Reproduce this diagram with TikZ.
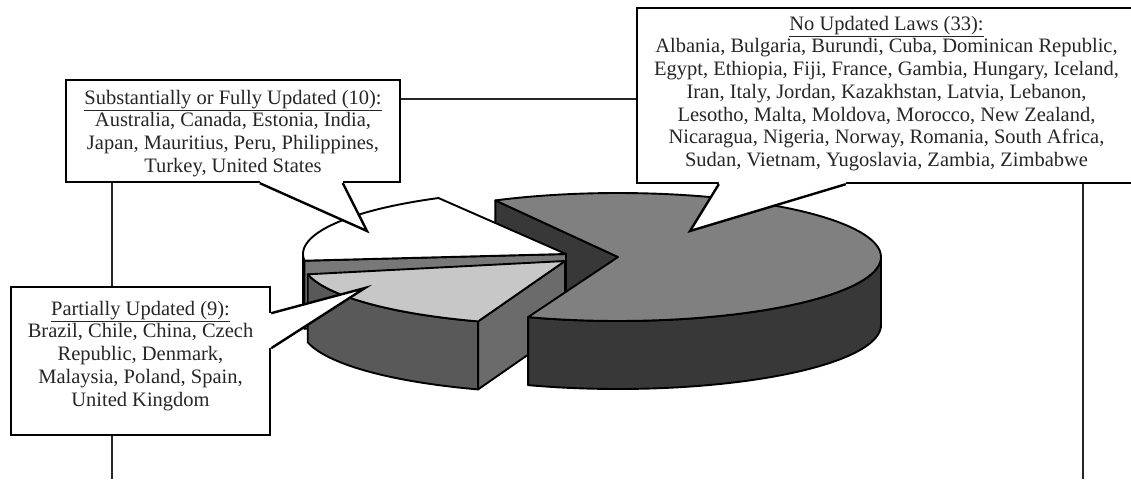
\documentclass[tikz,border=0pt]{standalone}
\usepackage{fontspec}
\setmainfont{Liberation Serif}
\usetikzlibrary{calc}

\tikzset{
  box/.style={draw, line width=2.4pt, fill=white, inner sep=0pt},
  boxtext/.style={inner sep=0pt, align=center, anchor=north,
    text=black!85, font=\fontsize{20.5}{22.7}\selectfont},
  tail/.style={line width=2.4pt},
  link/.style={line width=1.2pt, black!85},
  pie/.style={line width=1.9pt, line join=round},
}

\begin{document}
\begin{tikzpicture}[x=1pt, y=-1pt]
  \useasboundingbox (0,0) rectangle (1131,479);
  \clip (0,0) rectangle (1131,479);
  % big slice, pulled out to the right
  \filldraw[pie, fill=black!78] (618,257) -- ({618+263*cos(-117.8)},{257+64*sin(-117.8)})
    -- ++(0,68) -- (618,325) -- cycle;
  % white slice
  \filldraw[pie, fill=black!90] plot[domain=174:180] ({566+263*cos(\x)},{254+64*sin(\x)})
    -- plot[domain=180:174] ({566+263*cos(\x)},{322+64*sin(\x)}) -- cycle;
  \filldraw[pie, fill=black!53] (566,254) -- ({566+263*cos(174)},{254+64*sin(174)})
    -- ++(0,68) -- (566,322) -- cycle;
  \filldraw[pie, fill=white] (566,254)
    -- plot[domain=174:241, samples=40] ({566+263*cos(\x)},{254+64*sin(\x)}) -- cycle;
  % light grey slice
  \filldraw[pie, fill=black!65] plot[domain=109.3:168, samples=40] ({565+263*cos(\x)},{261+64*sin(\x)})
    -- plot[domain=168:109.3, samples=40] ({565+263*cos(\x)},{329+64*sin(\x)}) -- cycle;
  \filldraw[pie, fill=black!58] (565,261) -- ({565+263*cos(109.3)},{261+64*sin(109.3)})
    -- ++(0,68) -- (565,329) -- cycle;
  \filldraw[pie, fill=black!22] (565,261)
    -- plot[domain=109.3:168, samples=40] ({565+263*cos(\x)},{261+64*sin(\x)}) -- cycle;
  % big slice, wall and top
  \filldraw[pie, fill=black!78] plot[domain=0:110, samples=50] ({618+263*cos(\x)},{257+64*sin(\x)})
    -- plot[domain=110:0, samples=50] ({618+263*cos(\x)},{325+64*sin(\x)}) -- cycle;
  \filldraw[pie, fill=black!50] (618,257)
    -- plot[domain=-117.8:110, samples=90] ({618+263*cos(\x)},{257+64*sin(\x)}) -- cycle;

  % boxes
  \node[box, minimum width=334pt, minimum height=102pt] (subst) at (233,131) {};
  \node[boxtext] (substtext) at ([yshift=-11pt]subst.north)
    {\underline{Substantially or Fully Updated (10):}\\
     Australia, Canada, Estonia, India,\\
     Japan, Mauritius, Peru, Philippines,\\
     Turkey, United States};
  \node[box, minimum width=499pt, minimum height=175pt] (nolaw) at (886.5,95.5) {};
  \node[boxtext] (nolawtext) at ([yshift=-9pt]nolaw.north)
    {\underline{No Updated Laws (33):}\\
     Albania, Bulgaria, Burundi, Cuba, Dominican Republic,\\
     Egypt, Ethiopia, Fiji, France, Gambia, Hungary, Iceland,\\
     Iran, Italy, Jordan, Kazakhstan, Latvia, Lebanon,\\
     Lesotho, Malta, Moldova, Morocco, New Zealand,\\
     Nicaragua, Nigeria, Norway, Romania, South Africa,\\
     Sudan, Vietnam, Yugoslavia, Zambia, Zimbabwe};
  \node[box, minimum width=259pt, minimum height=148pt] (partial) at (140.5,361) {};
  \node[boxtext] (partialtext) at ([yshift=-15pt]partial.north)
    {\underline{Partially Updated (9):}\\
     Brazil, Chile, China, Czech\\
     Republic, Denmark,\\
     Malaysia, Poland, Spain,\\
     United Kingdom};

  % pointers
  \coordinate (tipA) at (367,231);
  \coordinate (tipB) at (690,231);
  \coordinate (tipC) at (365,288);
  \coordinate (substL) at ($(subst.south west)+(195,0)$);
  \coordinate (substR) at ($(subst.south west)+(278,0)$);
  \coordinate (nolawL) at ($(nolaw.south west)+(83,0)$);
  \coordinate (nolawR) at ($(nolaw.south west)+(210,0)$);
  \coordinate (partialT) at ($(partial.south east)+(0,-123)$);
  \coordinate (partialB) at ($(partial.south east)+(0,-88)$);
  \fill[white] ($(substL)+(0,-4)$) -- (substL) -- (tipA) -- (substR) -- ($(substR)+(0,-4)$) -- cycle;
  \draw[tail] (substL) -- (tipA) -- (substR);
  \fill[white] ($(nolawL)+(0,-4)$) -- (nolawL) -- (tipB) -- (nolawR) -- ($(nolawR)+(0,-4)$) -- cycle;
  \draw[tail] (nolawL) -- (tipB) -- (nolawR);
  \fill[white] ($(partialT)+(-4,0)$) -- (partialT) -- (tipC) -- (partialB) -- ($(partialB)+(-4,0)$) -- cycle;
  \draw[tail] (partialT) -- (tipC) -- (partialB);

  % lines between the boxes
  \coordinate (leftend) at (112,479);
  \coordinate (rightend) at (1083,479);
  \draw[link] ([yshift=32pt]subst.east) -- ([yshift=32pt]subst.east -| nolaw.west);
  \draw[link] (subst.south -| leftend) -- (partial.north -| leftend);
  \draw[link] (partial.south -| leftend) -- (leftend);
  \draw[link] (nolaw.south -| rightend) -- (rightend);
\end{tikzpicture}
\end{document}
